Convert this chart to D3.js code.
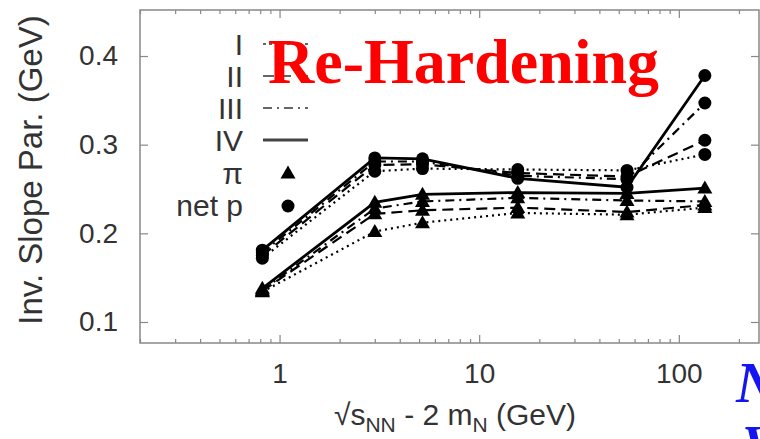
<!DOCTYPE html>
<html><head><meta charset="utf-8">
<script src="https://cdn.jsdelivr.net/npm/d3@7/dist/d3.min.js"></script>
<style>body{margin:0;background:#fff}svg{display:block}</style>
</head><body>
<script>
// ---- data ----
const energies = [0.82, 3.0, 5.2, 15.6, 55, 135];
const seriesNames = ["I", "II", "III", "IV"];
const piI   = [0.134, 0.202, 0.212, 0.223, 0.221, 0.229];
const piII  = [0.135, 0.222, 0.226, 0.229, 0.224, 0.232];
const piIII = [0.136, 0.228, 0.236, 0.240, 0.237, 0.236];
const piIV  = [0.138, 0.235, 0.244, 0.246, 0.245, 0.251];
const pI    = [0.172, 0.270, 0.273, 0.272, 0.271, 0.289];
const pII   = [0.175, 0.277, 0.278, 0.268, 0.264, 0.305];
const pIII  = [0.178, 0.281, 0.281, 0.265, 0.261, 0.347];
const pIV   = [0.181, 0.285, 0.284, 0.262, 0.252, 0.378];
const xMajor = [1, 10, 100];
const xMinor = [0.2,0.3,0.4,0.5,0.6,0.7,0.8,0.9,2,3,4,5,6,7,8,9,20,30,40,50,60,70,80,90,200];
const yTicks = [0.1, 0.2, 0.3, 0.4];
const legendParticles = ["π", "net p"];

const W = 760, H = 439;
const L = 140, R = 759, T = 10, B = 343;
const svg = d3.select("body").append("svg").attr("width", W).attr("height", H);

const x = d3.scaleLog().domain([0.2, 255]).range([L, R + 1]);
const y = d3.scaleLinear().domain([0.0763, 0.4519]).range([B, T]);

const frameCol = "#888";
const textCol = "#333";
const sans = "Liberation Sans, Arial, sans-serif";

function styleAxis(g){ g.select(".domain").remove(); g.selectAll("line").attr("stroke", frameCol).attr("stroke-width", 1.2); }
svg.append("g").attr("transform", `translate(0,${B})`)
  .call(d3.axisBottom(x).tickValues(xMajor).tickSize(-8).tickFormat(d3.format("d")).tickPadding(20))
  .call(styleAxis)
  .call(g => g.selectAll("text").attr("font-family", sans).attr("font-size", 28).attr("fill", textCol));
svg.append("g").attr("transform", `translate(0,${B})`)
  .call(d3.axisBottom(x).tickValues(xMinor).tickSize(-4).tickFormat(""))
  .call(styleAxis);
svg.append("g").attr("transform", `translate(0,${T})`)
  .call(d3.axisTop(x).tickValues(xMajor).tickSize(-8).tickFormat(""))
  .call(styleAxis);
svg.append("g").attr("transform", `translate(0,${T})`)
  .call(d3.axisTop(x).tickValues(xMinor).tickSize(-4).tickFormat(""))
  .call(styleAxis);
svg.append("g").attr("transform", `translate(${L},0)`)
  .call(d3.axisLeft(y).tickValues(yTicks).tickSize(-8).tickFormat(d3.format(".1f")).tickPadding(22))
  .call(styleAxis)
  .call(g => g.selectAll("text").attr("font-family", sans).attr("font-size", 28).attr("fill", textCol));
svg.append("g").attr("transform", `translate(${R},0)`)
  .call(d3.axisRight(y).tickValues(yTicks).tickSize(-8).tickFormat(""))
  .call(styleAxis);

svg.append("rect").attr("x", L).attr("y", T).attr("width", R - L).attr("height", B - T)
  .attr("fill", "none").attr("stroke", frameCol).attr("stroke-width", 1.5);

svg.append("text").attr("transform", `translate(42,170) rotate(-90)`)
  .attr("text-anchor", "middle").attr("font-family", sans)
  .attr("font-size", 33).attr("fill", textCol).text("Inv. Slope Par. (GeV)");
const xl = svg.append("text").attr("x", 455).attr("y", 425).attr("text-anchor", "middle")
  .attr("font-family", sans).attr("font-size", 30).attr("fill", textCol);
xl.append("tspan").text("√s");
xl.append("tspan").attr("font-size", 21).attr("dy", 7).text("NN");
xl.append("tspan").attr("dy", -7).text(" - 2 m");
xl.append("tspan").attr("font-size", 21).attr("dy", 7).text("N");
xl.append("tspan").attr("dy", -7).text(" (GeV)");

const styles = [
  {dash: "2,4", w: 2.2},
  {dash: "11,6", w: 2.2},
  {dash: "9,5,2,5", w: 2.2},
  {dash: null, w: 2.8}
];
const piSets = [piI, piII, piIII, piIV];
const pSets = [pI, pII, pIII, pIV];
const line = d3.line().x((d, i) => x(energies[i])).y(d => y(d));

const plot = svg.append("g");
[piSets, pSets].forEach(sets => {
  sets.forEach((vals, k) => {
    plot.append("path").datum(vals).attr("d", line)
      .attr("fill", "none").attr("stroke", "#000")
      .attr("stroke-width", styles[k].w)
      .attr("stroke-dasharray", styles[k].dash);
  });
});
const tri = "M0,-7.5L7.5,5.5L-7.5,5.5Z";
piSets.forEach(vals => {
  plot.selectAll(null).data(vals).enter().append("path")
    .attr("d", tri).attr("transform", (d, i) => `translate(${x(energies[i])},${y(d)})`).attr("fill", "#000");
});
pSets.forEach(vals => {
  plot.selectAll(null).data(vals).enter().append("circle")
    .attr("cx", (d, i) => x(energies[i])).attr("cy", d => y(d)).attr("r", 6.5).attr("fill", "#000");
});

const legY = [44, 76, 108, 140];
const lg = svg.append("g").attr("font-family", sans).attr("font-size", 30).attr("fill", textCol);
seriesNames.forEach((n, k) => {
  lg.append("text").attr("x", 243).attr("y", legY[k] + 11).attr("text-anchor", "end").text(n);
  lg.append("line").attr("x1", 263).attr("x2", 308).attr("y1", legY[k]).attr("y2", legY[k])
    .attr("stroke", k === 3 ? "#444" : "#666").attr("stroke-width", styles[k].w)
    .attr("stroke-dasharray", k === 0 ? "3,3" : styles[k].dash);
});
lg.append("text").attr("x", 243).attr("y", 184).attr("text-anchor", "end").text(legendParticles[0]);
lg.append("path").attr("d", tri).attr("transform", "translate(288,173)").attr("fill", "#000");
lg.append("text").attr("x", 243).attr("y", 216).attr("text-anchor", "end").text(legendParticles[1]);
lg.append("circle").attr("cx", 288).attr("cy", 206).attr("r", 6.5).attr("fill", "#000");

svg.append("text").attr("x", 268).attr("y", 83)
  .attr("font-family", "Liberation Serif, Times New Roman, serif").attr("font-weight", "bold")
  .attr("font-size", 64).attr("fill", "#ff0000").text("Re-Hardening");
svg.append("text").attr("x", 736).attr("y", 402)
  .attr("font-family", "Liberation Serif, Times New Roman, serif").attr("font-weight", "bold").attr("font-style", "italic")
  .attr("font-size", 56).attr("fill", "#1515f0").text("N");
svg.append("text").attr("x", 742).attr("y", 465)
  .attr("font-family", "Liberation Serif, Times New Roman, serif").attr("font-weight", "bold").attr("font-style", "italic")
  .attr("font-size", 56).attr("fill", "#1515f0").text("V");
</script>
</body></html>
